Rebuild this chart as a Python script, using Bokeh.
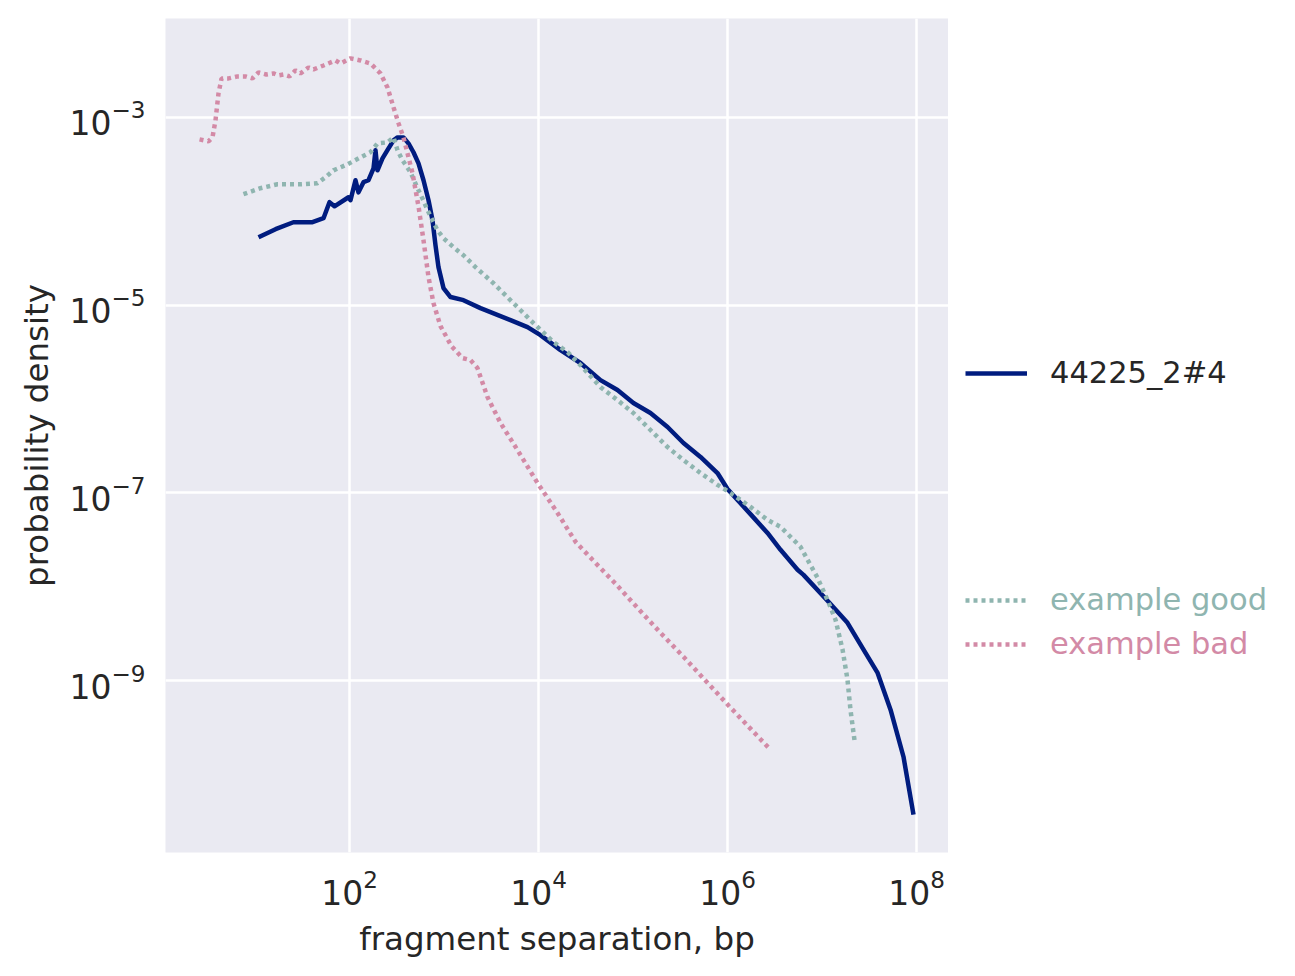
from bokeh.plotting import figure
from bokeh.models import Range1d, FixedTicker, Legend, LegendItem
from bokeh.layouts import row
from bokeh.embed import file_html
from bokeh.resources import INLINE

# ---- data (fragment separation in bp, probability density) ----
main_label = "44225_2#4"
main_sep = [10.9, 16.5, 25.5, 40.6, 53.1, 61.4, 69.3, 97.6, 102.5, 115.7, 124.5, 140.6,
            158.9, 179.5, 188.4, 197.8, 223.4, 258.8, 292.4, 322.4, 372.4, 420.7, 475.4,
            537.2, 606.9, 685.7, 755.7, 812.8, 874.2, 987.5, 1172, 1608, 2431, 5058, 7650,
            1.05e4, 1.71e4, 2.78e4, 4.53e4, 6.85e4, 1.01e5, 1.53e5, 2.32e5, 3.42e5, 5.18e5,
            7.83e5, 1.0e6, 1.86e6, 2.65e6, 3.64e6, 5.51e6, 6.37e6, 1.17e7, 1.86e7, 2.75e7,
            3.86e7, 5.31e7, 7.28e7, 9.29e7]
main_dens = [5.28e-5, 6.44e-5, 7.64e-5, 7.64e-5, 8.43e-5, 1.25e-4, 1.13e-4, 1.41e-4, 1.31e-4,
             2.14e-4, 1.59e-4, 2.04e-4, 2.14e-4, 2.86e-4, 4.46e-4, 2.73e-4, 3.66e-4, 4.68e-4,
             5.69e-4, 6.12e-4, 6.12e-4, 5.28e-4, 4.25e-4, 3.24e-4, 2.14e-4, 1.31e-4, 8.02e-5,
             4.35e-5, 2.54e-5, 1.52e-5, 1.22e-5, 1.13e-5, 9.29e-6, 6.92e-6, 5.83e-6, 4.80e-6,
             3.32e-6, 2.42e-6, 1.59e-6, 1.25e-6, 9.06e-7, 7.10e-7, 5.04e-7, 3.40e-7, 2.42e-7,
             1.63e-7, 1.10e-7, 5.56e-8, 3.75e-8, 2.48e-8, 1.52e-8, 1.34e-8, 6.92e-9, 4.14e-9,
             2.14e-9, 1.22e-9, 4.91e-10, 1.55e-10, 3.75e-11]

good_label = "example good"
good_sep = [7.55, 11.4, 17.3, 30.3, 45.8, 55.7, 67.8, 95.2, 130.7, 166.7, 197.8, 252.5,
            292.4, 322.4, 363.9, 442.6, 524.8, 591.6, 668.4, 773.8, 853.1, 987.5, 1262,
            1608, 2154, 3342, 5433, 8851, 1.44e4, 2.03e4, 2.78e4, 4.53e4, 6.85e4, 1.01e5,
            1.53e5, 2.32e5, 3.42e5, 5.18e5, 7.83e5, 1.0e6, 1.75e6, 2.65e6, 3.64e6, 5.92e6,
            7.03e6, 8.96e6, 1.14e7, 1.39e7, 1.65e7, 1.86e7, 2.00e7, 2.21e7]
good_dens = [1.52e-4, 1.76e-4, 1.94e-4, 1.94e-4, 1.99e-4, 2.30e-4, 2.73e-4, 3.16e-4, 3.75e-4,
             4.25e-4, 5.28e-4, 5.42e-4, 6.12e-4, 4.46e-4, 3.49e-4, 2.60e-4, 1.76e-4, 1.37e-4,
             1.03e-4, 7.64e-5, 6.28e-5, 5.16e-5, 4.14e-5, 3.40e-5, 2.54e-5, 1.71e-5, 1.05e-5,
             6.44e-6, 4.04e-6, 3.16e-6, 2.30e-6, 1.34e-6, 9.75e-7, 7.10e-7, 4.68e-7, 3.08e-7,
             2.24e-7, 1.63e-7, 1.22e-7, 1.05e-7, 7.10e-8, 5.16e-8, 4.35e-8, 2.67e-8, 1.94e-8,
             1.25e-8, 7.27e-9, 4.46e-9, 2.14e-9, 1.03e-9, 4.91e-10, 2.30e-10]

bad_label = "example bad"
bad_sep = [2.59, 3.22, 3.55, 3.82, 4.11, 4.43, 5.25, 6.53, 7.93, 9.41, 10.9, 13.2, 15.7,
           17.7, 20.0, 23.2, 26.8, 30.3, 36.8, 41.6, 53.1, 71.1, 80.4, 102.5, 130.7, 166.7,
           183.9, 212.8, 252.5, 292.4, 330.4, 372.4, 411.0, 464.5, 537.2, 606.9, 685.7,
           773.8, 918.3, 1200, 1570, 1905, 2259, 2884, 3963, 5998, 9750, 1.59e4, 2.47e4,
           3.73e4, 6.53e4, 1.14e5, 1.95e5, 3.42e5, 6.00e5, 1.03e6, 1.79e6, 2.78e6]
bad_dens = [5.83e-4, 5.56e-4, 6.12e-4, 9.29e-4, 1.80e-3, 2.60e-3, 2.60e-3, 2.73e-3, 2.73e-3,
            2.60e-3, 3.01e-3, 2.86e-3, 2.94e-3, 2.80e-3, 2.86e-3, 2.73e-3, 3.16e-3, 2.94e-3,
            3.40e-3, 3.24e-3, 3.57e-3, 4.04e-3, 3.75e-3, 4.25e-3, 4.04e-3, 3.75e-3, 3.40e-3,
            2.94e-3, 2.08e-3, 1.28e-3, 8.63e-4, 6.12e-4, 4.14e-4, 2.54e-4, 1.13e-4, 4.91e-5,
            1.99e-5, 1.05e-5, 5.98e-6, 3.66e-6, 2.73e-6, 2.60e-6, 2.14e-6, 1.05e-6, 5.56e-7,
            2.86e-7, 1.28e-7, 6.12e-8, 3.01e-8, 1.94e-8, 1.08e-8, 5.83e-9, 3.24e-9, 1.80e-9,
            9.75e-10, 5.42e-10, 3.01e-10, 1.89e-10]

x_ticks = [1e2, 1e4, 1e6, 1e8]
y_ticks = [1e-9, 1e-7, 1e-5, 1e-3]

# ---- styling ----
FONT = "DejaVu Sans"
TEXT = "#262626"
C_MAIN = "#001C7F"
C_GOOD = "#8FB5B0"
C_BAD = "#D38AA6"
LW = 4.5
DASH = "4 4"

TOTAL_H = 972

p = figure(x_axis_type="log", y_axis_type="log",
           x_range=Range1d(1.13, 2.18e8), y_range=Range1d(1.48e-11, 1.13e-2),
           frame_width=783, frame_height=834,
           min_border_left=165, min_border_right=0, min_border_top=18,
           min_border_bottom=TOTAL_H - 18 - 834,
           output_backend="svg", toolbar_location=None,
           background_fill_color="#EAEAF2", border_fill_color="white",
           outline_line_color=None)

r_main = p.line(main_sep, main_dens, line_color=C_MAIN, line_width=LW, line_join="round")
r_good = p.line(good_sep, good_dens, line_color=C_GOOD, line_width=LW, line_dash=DASH,
                line_cap="butt")
r_bad = p.line(bad_sep, bad_dens, line_color=C_BAD, line_width=LW, line_dash=DASH,
               line_cap="butt")

for ax, ticks in ((p.xaxis[0], x_ticks), (p.yaxis[0], y_ticks)):
    ax.ticker = FixedTicker(ticks=ticks, minor_ticks=[])
    ax.axis_line_color = None
    ax.major_tick_line_color = None
    ax.minor_tick_line_color = None
    ax.major_tick_in = 0
    ax.major_tick_out = 0
    ax.major_label_text_font = FONT
    ax.major_label_text_font_size = "33px"
    ax.major_label_text_color = TEXT
    ax.axis_label_text_font = FONT
    ax.axis_label_text_font_size = "32.5px"
    ax.axis_label_text_font_style = "normal"
    ax.axis_label_text_color = TEXT

p.xaxis.axis_label = "fragment separation, bp"
p.yaxis.axis_label = "probability density"
p.xaxis.major_label_standoff = 16
p.yaxis.major_label_standoff = 20
p.xaxis.axis_label_standoff = 12
p.yaxis.axis_label_standoff = 10

p.grid.grid_line_color = "white"
p.grid.grid_line_width = 2.5
p.grid.minor_grid_line_color = None

# ---- legend panel to the right of the axes (frame aligned with the axes frame) ----
q = figure(width=340, height=TOTAL_H, min_border=0,
           x_range=Range1d(0, 1), y_range=Range1d(0, 1),
           x_axis_location=None, y_axis_location=None,
           output_backend="svg", toolbar_location=None,
           outline_line_color=None, background_fill_color="white",
           border_fill_color="white")
q.grid.visible = False

# off-range stand-ins so that the legend can draw each line sample
l_main = q.line([5, 6], [5, 6], line_color=C_MAIN, line_width=LW)
l_good = q.line([5, 6], [5, 6], line_color=C_GOOD, line_width=LW, line_dash=DASH,
                line_cap="butt")
l_bad = q.line([5, 6], [5, 6], line_color=C_BAD, line_width=LW, line_dash=DASH,
               line_cap="butt")


def make_legend(label, renderer, color, y):
    leg = Legend(items=[LegendItem(label=label, renderers=[renderer])],
                 location=(17, y), orientation="vertical",
                 glyph_width=62, glyph_height=30, label_height=30,
                 label_standoff=23, padding=0, margin=0, spacing=0,
                 border_line_color=None, background_fill_alpha=0,
                 label_text_font=FONT, label_text_font_size="30.5px",
                 label_text_color=color)
    q.add_layout(leg)


make_legend(main_label, l_main, TEXT, 462)
make_legend(good_label, l_good, C_GOOD, 235)
make_legend(bad_label, l_bad, C_BAD, 191)

layout = row(p, q)
open("out.html", "w").write(file_html(layout, INLINE))
